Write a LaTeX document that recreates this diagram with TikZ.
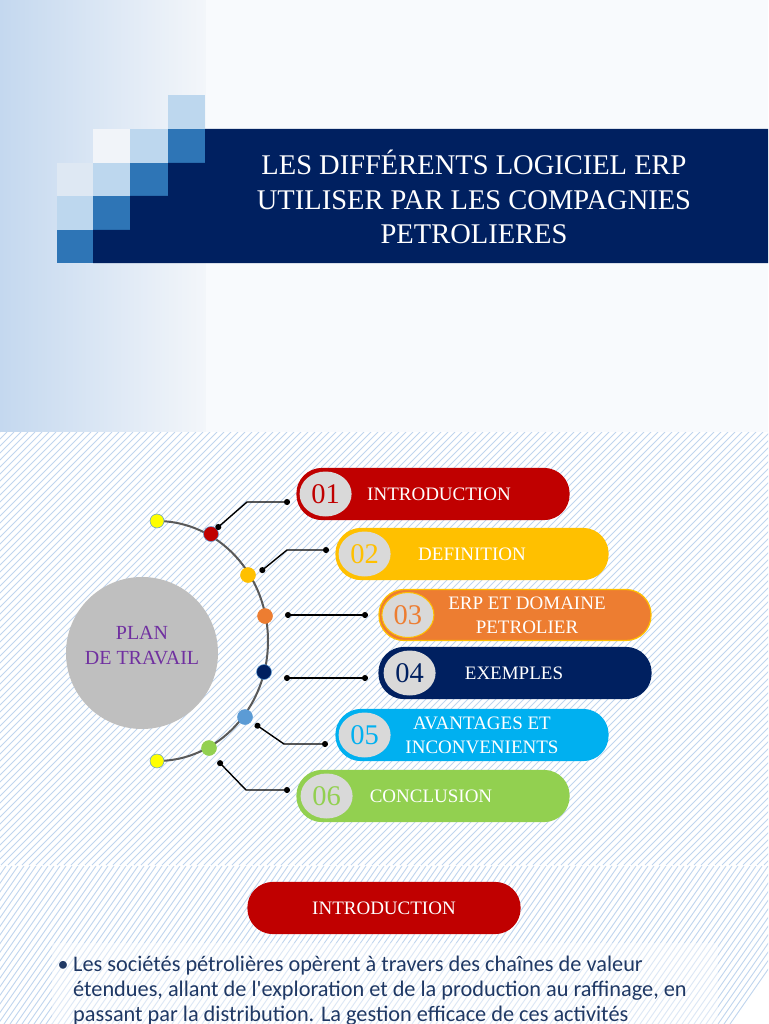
\documentclass[tikz,border=0pt]{standalone}
\usepackage{fontspec}
\setmainfont{Liberation Serif}
\newfontfamily\bodyfont{Carlito}
\usetikzlibrary{arrows.meta, positioning, shapes.geometric}
\definecolor{navy}{RGB}{0,32,96}
\definecolor{midblue}{RGB}{46,117,182}
\definecolor{paleblue}{RGB}{189,215,238}
\definecolor{ghostA}{RGB}{241,244,249}
\definecolor{ghostB}{RGB}{222,232,243}
\definecolor{bgleft}{RGB}{196,216,239}
\definecolor{bgright}{RGB}{243,246,250}
\definecolor{bgplain}{RGB}{248,250,253}
\definecolor{hatchc}{RGB}{192,213,238}
\definecolor{redc}{RGB}{192,0,0}
\definecolor{goldc}{RGB}{255,192,0}
\definecolor{orangec}{RGB}{237,125,49}
\definecolor{skyc}{RGB}{0,176,240}
\definecolor{greenc}{RGB}{146,208,80}
\definecolor{dotblue}{RGB}{91,155,213}
\definecolor{lemon}{RGB}{255,255,0}
\definecolor{discgrey}{RGB}{217,217,217}
\definecolor{plangrey}{RGB}{191,191,191}
\definecolor{purplec}{RGB}{112,48,160}
\definecolor{arcgrey}{RGB}{89,89,89}
\definecolor{textnavy}{RGB}{31,56,100}

\begin{document}
\begin{tikzpicture}[x=1pt, y=-1pt]

  \tikzset{
    pill/.style = {
      rectangle, rounded corners=25pt, inner sep=0pt,
      minimum width=272pt, minimum height=51pt, line width=1.2pt
    },
    numdisc/.style = {
      ellipse, fill=discgrey, inner sep=0pt,
      minimum width=52pt, minimum height=45pt,
      font=\fontsize{28.5}{28.5}\selectfont
    },
    itemlbl/.style = {
      text=white, align=center, font=\fontsize{19}{24}\selectfont
    },
    arcdot/.style = {
      circle, minimum size=15pt, inner sep=0pt,
      draw=dotblue, line width=0.5pt
    },
    conn/.style = {
      {Circle[length=6pt]}-{Circle[length=6pt]}, line width=1.4pt
    },
    hatchline/.style = {line width=0.9pt, hatchc}
  }

  \useasboundingbox (0,0) rectangle (768,1024);

  % --- Slide 1: title -------------------------------------------------------
  \shade [left color=bgleft, right color=bgright] (0,0) rectangle (206,432);
  \fill [bgplain] (206,0) rectangle (768,432);

  \foreach \xa/\ya/\xb/\yb/\cc in {168/95/205/129/paleblue,
      93/129/130/163/ghostA, 130/129/168/163/paleblue, 168/129/205/163/midblue,
      57/163/93/196/ghostB, 93/163/130/196/paleblue, 130/163/168/196/midblue,
      57/196/93/230/paleblue, 93/196/130/230/midblue, 57/230/93/263/midblue}
    \fill [\cc] (\xa,\ya) rectangle (\xb,\yb);

  \fill [navy] (205,129) -- (768,129) -- (768,263) -- (93,263)
    |- (130,230) |- (168,196) |- (205,163) -- cycle;

  \node (title) [text=white, align=center, font=\fontsize{28.5}{34.5}\selectfont]
    at (474,197) {LES DIFFÉRENTS LOGICIEL ERP\\ UTILISER PAR LES COMPAGNIES\\ PETROLIERES};

  % --- Slide 2: plan de travail ---------------------------------------------
  \fill [white] (0,432) rectangle (768,865);
  \begin{scope}
    \clip (0,432) rectangle (768,865);
    \foreach \k in {0,...,172}
      \draw [hatchline] ({7*\k-433},865) -- ({7*\k},432);
  \end{scope}

  \node (plan) [circle, fill=plangrey, minimum size=152pt] at (142,653) {};
  \node (plantxt) [text=purplec, align=center, font=\fontsize{20}{25}\selectfont]
    at (142,646) {PLAN\\ DE TRAVAIL};

  \draw [arcgrey, line width=2pt] (157,521)
    arc [start angle=-90, end angle=90, x radius=111, y radius=120];

  \node (d0) [arcdot, fill=lemon, minimum size=14pt] at (157,521) {};
  \node (d1) [arcdot, fill=redc]    at (211,534) {};
  \node (d2) [arcdot, fill=goldc, draw=goldc]   at (248,575) {};
  \node (d3) [arcdot, fill=orangec, draw=orangec] at (265,616) {};
  \node (d4) [arcdot, fill=navy]    at (264,672) {};
  \node (d5) [arcdot, fill=dotblue] at (245,717) {};
  \node (d6) [arcdot, fill=greenc, draw=greenc]  at (209,748) {};
  \node (d7) [arcdot, fill=lemon, minimum size=14pt] at (157,761) {};

  % items
  \node (b1) [pill, fill=redc, draw=redc]       at (433,494) {};
  \node (b2) [pill, fill=goldc, draw=goldc]     at (472,554) {};
  \node (b3) [pill, fill=orangec, draw=goldc]   at (515,615) {};
  \node (b4) [pill, fill=navy, draw=navy]       at (515,673) {};
  \node (b5) [pill, fill=skyc, draw=skyc]       at (472,735) {};
  \node (b6) [pill, fill=greenc, draw=greenc]   at (433,796) {};

  \node (n1) [numdisc, text=redc, right=3pt of b1.west]       {01};
  \node (n2) [numdisc, text=goldc, right=3pt of b2.west]      {02};
  \node (n3) [numdisc, text=orangec, draw=goldc, line width=1pt,
              right=3pt of b3.west] {03};
  \node (n4) [numdisc, text=navy, right=5pt of b4.west]       {04};
  \node (n5) [numdisc, text=skyc, right=3pt of b5.west]       {05};
  \node (n6) [numdisc, text=greenc, right=4pt of b6.west]     {06};

  \node (l1) [itemlbl] at (439,494) {INTRODUCTION};
  \node (l2) [itemlbl] at (472,554) {DEFINITION};
  \node (l3) [itemlbl] at (527,615) {ERP ET DOMAINE\\ PETROLIER};
  \node (l4) [itemlbl] at (514,673) {EXEMPLES};
  \node (l5) [itemlbl] at (482,735) {AVANTAGES ET\\ INCONVENIENTS};
  \node (l6) [itemlbl] at (431,796) {CONCLUSION};

  % connectors: arc dot -> item
  \coordinate (s1) at (216,529);  \coordinate (p1) at (290,502);
  \coordinate (s2) at (260,572);  \coordinate (p2) at (329,550);
  \coordinate (s3) at (285,615);  \coordinate (p3) at (368,615);
  \coordinate (s4) at (284,678);  \coordinate (p4) at (368,678);
  \coordinate (s5) at (255,724);  \coordinate (p5) at (328,744);
  \coordinate (s6) at (218,761);  \coordinate (p6) at (290,790);

  \draw [conn] (s1) -- ++(31,-27) -- (p1);
  \draw [conn] (s2) -- ++(27,-22) -- (p2);
  \draw [conn] (s3) -- (p3);
  \draw [conn] (s4) -- (p4);
  \draw [conn] (s5) -- ++(29,20) -- (p5);
  \draw [conn] (s6) -- ++(28,29) -- (p6);

  % --- Slide 3: introduction ------------------------------------------------
  \fill [white] (0,866) rectangle (768,1024);
  \begin{scope}
    \clip (0,866) rectangle (768,1024);
    \foreach \k in {0,...,140}
      \draw [hatchline] ({6*\k-110},1024) -- ({6*\k},866);
    \fill [white, opacity=0.45] (52,943) rectangle (718,1024);

    \node (intro) [pill, fill=redc, draw=redc, text=white,
                   font=\fontsize{19}{24}\selectfont]
      at (384,908) {INTRODUCTION};

    \node (bul) [text=textnavy, font=\bodyfont\fontsize{22}{25}\selectfont]
      at (63,966) {\textbullet};
    \node (body) [anchor=north west, inner sep=0pt, align=left, text=textnavy,
                  font=\bodyfont\fontsize{22.3}{25}\selectfont]
      at (73,956) {Les sociétés pétrolières opèrent à travers des chaînes de valeur\\
                   étendues, allant de l'exploration et de la production au raffinage, en\\
                   passant par la distribution. La gestion efficace de ces activités};
  \end{scope}

\end{tikzpicture}
\end{document}
